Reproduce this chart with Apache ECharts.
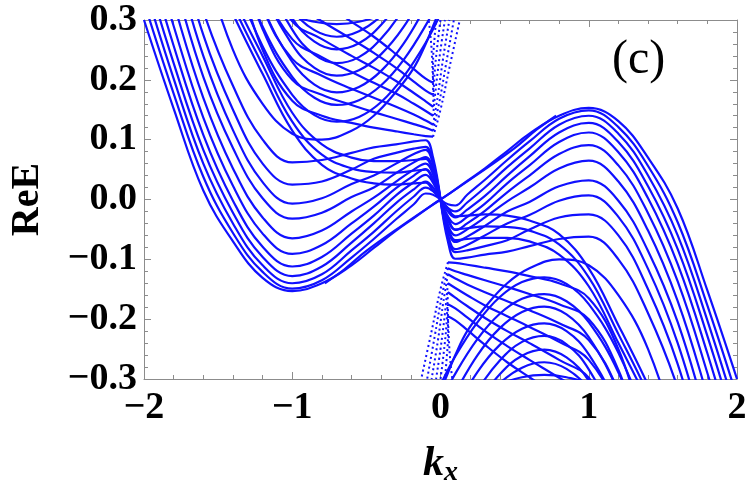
<!DOCTYPE html>
<html>
<head>
<meta charset="utf-8">
<script src="https://cdn.jsdelivr.net/npm/echarts@6.0.0/dist/echarts.min.js"></script>
<style>
  html, body { margin: 0; padding: 0; background: #fff; }
  #chart { width: 750px; height: 492px; }
</style>
</head>
<body>
<div id="chart"></div>
<script>
// k grids (left half / right half)
const kU1L = [-2.0, -1.8, -1.6, -1.4, -1.2, -1.0, -0.8, -0.6, -0.45, -0.3, -0.18, -0.1, -0.05, 0.0];
const kU1R = [2.0, 1.8, 1.6, 1.4, 1.2, 1.0, 0.8, 0.6, 0.45, 0.3, 0.18, 0.1, 0.05, 0.0];
const kL2L = [-1.6, -1.4, -1.2, -1.0, -0.8, -0.6, -0.45, -0.3, -0.18, -0.1, -0.05, 0.0];
const kL2R = [1.6, 1.4, 1.2, 1.0, 0.8, 0.6, 0.45, 0.3, 0.18, 0.1, 0.05, 0.0];
const kArcL = [-1.4, -1.2, -1.0, -0.85, -0.7, -0.55, -0.4, -0.25, -0.1, 0.0];
const kArcR = [1.4, 1.2, 1.0, 0.85, 0.7, 0.55, 0.4, 0.25, 0.1, 0.0];

// big bands, minimum near kx=-1
const eU1L = [
  [0.30, 0.152, 0.015, -0.07, -0.131, -0.153, -0.140, -0.110, -0.081, -0.052, -0.031, -0.017, -0.008, 0.0],
  [0.33, 0.177, 0.038, -0.056, -0.121, -0.149, -0.135, -0.097, -0.066, -0.033, -0.008, 0.01, 0.008, 0.0],
  [0.36, 0.202, 0.06, -0.04, -0.11, -0.140, -0.125, -0.085, -0.054, -0.020, 0.005, 0.02, 0.014, 0.0],
  [0.39, 0.228, 0.083, -0.022, -0.096, -0.128, -0.112, -0.072, -0.040, -0.006, 0.017, 0.03, 0.02, 0.0],
  [0.425, 0.257, 0.108, -0.002, -0.079, -0.112, -0.096, -0.057, -0.027, 0.007, 0.029, 0.041, 0.028, 0.0],
  [0.46, 0.29, 0.137, 0.023, -0.057, -0.091, -0.076, -0.040, -0.012, 0.019, 0.04, 0.051, 0.035, 0.0],
  [0.50, 0.328, 0.17, 0.052, -0.03, -0.065, -0.052, -0.020, 0.003, 0.03, 0.05, 0.06, 0.042, 0.0],
  [0.55, 0.37, 0.205, 0.086, 0.002, -0.032, -0.022, 0.004, 0.02, 0.044, 0.062, 0.071, 0.05, 0.0],
  [0.60, 0.41, 0.24, 0.116, 0.029, -0.007, 0.002, 0.026, 0.04, 0.06, 0.076, 0.083, 0.058, 0.0],
  [0.65, 0.45, 0.275, 0.15, 0.06, 0.025, 0.030, 0.05, 0.068, 0.078, 0.085, 0.088, 0.062, 0.0],
  [0.70, 0.49, 0.315, 0.19, 0.10, 0.062, 0.066, 0.078, 0.087, 0.092, 0.097, 0.099, 0.07, 0.0],
  [0.80, 0.58, 0.40, 0.25, 0.16, 0.11, 0.10, 0.115, 0.14, 0.18, 0.22, 0.26, 0.29, 0.32]
];
// big bands, maximum near kx=1
const eU1R = [
  [-0.30, -0.152, -0.015, 0.07, 0.131, 0.153, 0.140, 0.110, 0.081, 0.052, 0.031, 0.017, 0.008, 0.0],
  [-0.33, -0.177, -0.038, 0.056, 0.121, 0.149, 0.135, 0.097, 0.066, 0.033, 0.008, -0.01, -0.008, 0.0],
  [-0.36, -0.202, -0.06, 0.04, 0.11, 0.140, 0.125, 0.085, 0.054, 0.020, -0.005, -0.02, -0.014, 0.0],
  [-0.39, -0.228, -0.083, 0.022, 0.096, 0.128, 0.112, 0.072, 0.040, 0.006, -0.017, -0.03, -0.02, 0.0],
  [-0.425, -0.257, -0.108, 0.002, 0.079, 0.112, 0.096, 0.057, 0.027, -0.007, -0.029, -0.041, -0.028, 0.0],
  [-0.46, -0.29, -0.137, -0.023, 0.057, 0.091, 0.076, 0.040, 0.012, -0.019, -0.04, -0.051, -0.035, 0.0],
  [-0.50, -0.328, -0.17, -0.052, 0.03, 0.065, 0.052, 0.020, -0.003, -0.03, -0.05, -0.06, -0.042, 0.0],
  [-0.55, -0.37, -0.205, -0.086, -0.002, 0.032, 0.022, -0.004, -0.02, -0.044, -0.062, -0.071, -0.05, 0.0],
  [-0.60, -0.41, -0.24, -0.116, -0.029, 0.007, -0.002, -0.026, -0.04, -0.06, -0.076, -0.083, -0.058, 0.0],
  [-0.65, -0.45, -0.275, -0.15, -0.06, -0.025, -0.030, -0.05, -0.068, -0.078, -0.085, -0.088, -0.062, 0.0],
  [-0.70, -0.49, -0.315, -0.19, -0.10, -0.062, -0.066, -0.078, -0.087, -0.092, -0.097, -0.099, -0.07, 0.0],
  [-0.80, -0.58, -0.40, -0.25, -0.16, -0.11, -0.10, -0.115, -0.14, -0.18, -0.22, -0.26, -0.29, -0.32]
];

// nested arcs, extremum near kx=-0.7 / kx=0.7
const eArcL = [
  [0.377, 0.256, 0.175, 0.141, 0.13, 0.138, 0.163, 0.205, 0.262, 0.31],
  [0.415, 0.289, 0.205, 0.17, 0.158, 0.166, 0.191, 0.233, 0.291, 0.339],
  [0.459, 0.322, 0.23, 0.192, 0.179, 0.188, 0.215, 0.26, 0.323, 0.375],
  [0.491, 0.352, 0.259, 0.22, 0.207, 0.216, 0.243, 0.288, 0.351, 0.403],
  [0.532, 0.383, 0.284, 0.242, 0.228, 0.238, 0.269, 0.319, 0.39, 0.45],
  [0.535, 0.396, 0.303, 0.264, 0.251, 0.261, 0.292, 0.342, 0.413, 0.47],
  [0.51, 0.394, 0.316, 0.283, 0.272, 0.281, 0.307, 0.35, 0.41, 0.46],
  [0.40, 0.35, 0.309, 0.297, 0.293, 0.297, 0.309, 0.33, 0.36, 0.40]
];
const eArcR = [
  [-0.377, -0.256, -0.175, -0.141, -0.13, -0.138, -0.163, -0.205, -0.262, -0.31],
  [-0.415, -0.289, -0.205, -0.17, -0.158, -0.166, -0.191, -0.233, -0.291, -0.339],
  [-0.459, -0.322, -0.23, -0.192, -0.179, -0.188, -0.215, -0.26, -0.323, -0.375],
  [-0.491, -0.352, -0.259, -0.22, -0.207, -0.216, -0.243, -0.288, -0.351, -0.403],
  [-0.532, -0.383, -0.284, -0.242, -0.228, -0.238, -0.269, -0.319, -0.39, -0.45],
  [-0.535, -0.396, -0.303, -0.264, -0.251, -0.261, -0.292, -0.342, -0.413, -0.47],
  [-0.51, -0.394, -0.316, -0.283, -0.272, -0.281, -0.307, -0.35, -0.41, -0.46],
  [-0.40, -0.35, -0.309, -0.297, -0.293, -0.297, -0.309, -0.33, -0.36, -0.40]
];

// inner bands near kx=0
const eL2L = [
  [0.42, 0.31, 0.21, 0.115, 0.058, 0.035, 0.027, 0.025, 0.027, 0.028, 0.015, 0.0],
  [0.44, 0.325, 0.225, 0.13, 0.075, 0.052, 0.046, 0.045, 0.048, 0.05, 0.03, 0.0],
  [0.46, 0.34, 0.24, 0.145, 0.092, 0.07, 0.064, 0.064, 0.066, 0.068, 0.045, 0.0],
  [0.52, 0.40, 0.25, 0.165, 0.14, 0.128, 0.12, 0.114, 0.109, 0.106, 0.105, null],
  [0.55, 0.43, 0.285, 0.2, 0.175, 0.158, 0.146, 0.135, 0.126, 0.12, 0.115, null],
  [0.58, 0.46, 0.32, 0.235, 0.207, 0.185, 0.17, 0.155, 0.142, 0.132, 0.125, null],
  [0.62, 0.49, 0.355, 0.268, 0.238, 0.213, 0.195, 0.177, 0.16, 0.148, 0.14, null],
  [0.65, 0.52, 0.39, 0.298, 0.268, 0.24, 0.22, 0.198, 0.178, 0.164, 0.155, null],
  [0.68, 0.55, 0.42, 0.33, 0.298, 0.268, 0.245, 0.22, 0.197, 0.182, 0.175, null],
  [0.72, 0.59, 0.46, 0.36, 0.33, 0.297, 0.272, 0.243, 0.218, 0.202, 0.195, null]
];
const eL2R = [
  [-0.42, -0.31, -0.21, -0.115, -0.058, -0.035, -0.027, -0.025, -0.027, -0.028, -0.015, 0.0],
  [-0.44, -0.325, -0.225, -0.13, -0.075, -0.052, -0.046, -0.045, -0.048, -0.05, -0.03, 0.0],
  [-0.46, -0.34, -0.24, -0.145, -0.092, -0.07, -0.064, -0.064, -0.066, -0.068, -0.045, 0.0],
  [-0.52, -0.40, -0.25, -0.165, -0.14, -0.128, -0.12, -0.114, -0.109, -0.106, -0.105, null],
  [-0.55, -0.43, -0.285, -0.2, -0.175, -0.158, -0.146, -0.135, -0.126, -0.12, -0.115, null],
  [-0.58, -0.46, -0.32, -0.235, -0.207, -0.185, -0.17, -0.155, -0.142, -0.132, -0.125, null],
  [-0.62, -0.49, -0.355, -0.268, -0.238, -0.213, -0.195, -0.177, -0.16, -0.148, -0.14, null],
  [-0.65, -0.52, -0.39, -0.298, -0.268, -0.24, -0.22, -0.198, -0.178, -0.164, -0.155, null],
  [-0.68, -0.55, -0.42, -0.33, -0.298, -0.268, -0.245, -0.22, -0.197, -0.182, -0.175, null],
  [-0.72, -0.59, -0.46, -0.36, -0.33, -0.297, -0.272, -0.243, -0.218, -0.202, -0.195, null]
];

// steep, sparsely sampled branches near kx=0
const kArmTop = [
  [-0.05, 0.0, 0.06, 0.13], [-0.05, -0.01, 0.04, 0.09], [-0.05, -0.02, 0.02, 0.06],
  [-0.05, -0.03, 0.0, 0.03], [-0.05, -0.04, -0.02, 0.0], [-0.05, -0.05, -0.04, -0.03],
  [-0.05, -0.06, -0.07, -0.08]
];
const eArmTop = [
  [0.105, 0.15, 0.22, 0.30], [0.115, 0.16, 0.23, 0.30], [0.125, 0.17, 0.24, 0.30],
  [0.14, 0.19, 0.25, 0.30], [0.155, 0.21, 0.26, 0.30], [0.175, 0.23, 0.27, 0.30],
  [0.195, 0.25, 0.28, 0.30]
];
const kArmBot = [
  [0.05, 0.0, -0.06, -0.13], [0.05, 0.01, -0.04, -0.09], [0.05, 0.02, -0.02, -0.06],
  [0.05, 0.03, 0.0, -0.03], [0.05, 0.04, 0.02, 0.0], [0.05, 0.05, 0.04, 0.03],
  [0.05, 0.06, 0.07, 0.08]
];
const eArmBot = [
  [-0.105, -0.15, -0.22, -0.30], [-0.115, -0.16, -0.23, -0.30], [-0.125, -0.17, -0.24, -0.30],
  [-0.14, -0.19, -0.25, -0.30], [-0.155, -0.21, -0.26, -0.30], [-0.175, -0.23, -0.27, -0.30],
  [-0.195, -0.25, -0.28, -0.30]
];

// edge state through the origin
const kEdge = [-0.78, -0.65, -0.5, -0.25, 0, 0.25, 0.5, 0.65, 0.78];
const eEdge = [-0.140, -0.117, -0.086, -0.042, 0, 0.042, 0.086, 0.117, 0.140];

const BLUE = '#1010ff';
const chart = echarts.init(document.getElementById('chart'), null, { renderer: 'canvas' });

function pairs(ks, es) {
  return ks.map((k, i) => [k, es[i]]);
}

var series = [];
function addCurve(ks, es, dotted) {
  series.push({
    type: 'line',
    data: pairs(ks, es),
    showSymbol: false,
    smooth: 0.4,
    silent: true,
    clip: true,
    lineStyle: dotted ? { color: BLUE, width: 2, type: [2, 3] } : { color: BLUE, width: 2.2 }
  });
}
eU1L.forEach(e => addCurve(kU1L, e));
eU1R.forEach(e => addCurve(kU1R, e));
eArcL.forEach(e => addCurve(kArcL, e));
eArcR.forEach(e => addCurve(kArcR, e));
eL2L.forEach(e => addCurve(kL2L, e));
eL2R.forEach(e => addCurve(kL2R, e));
kArmTop.forEach((k, i) => addCurve(k, eArmTop[i], true));
kArmBot.forEach((k, i) => addCurve(k, eArmBot[i], true));
addCurve(kEdge, eEdge);

const axisGray = '#8c8c8c';
const labelFont = {
  fontFamily: 'Liberation Serif',
  fontWeight: 'bold',
  fontSize: 38,
  color: '#000'
};
function minus(s) { return s.replace('-', '\u2212'); }

var baseX = {
  type: 'value', min: -2, max: 2, interval: 1,
  axisLine: { show: true, onZero: false, lineStyle: { color: axisGray, width: 1 } },
  axisTick: { show: true, inside: true, length: 7, lineStyle: { color: axisGray } },
  minorTick: { show: true, splitNumber: 5, length: 4, lineStyle: { color: axisGray } },
  splitLine: { show: false }
};
var baseY = {
  type: 'value', min: -0.3, max: 0.3, interval: 0.1,
  axisLine: { show: true, onZero: false, lineStyle: { color: axisGray, width: 1 } },
  axisTick: { show: true, inside: true, length: 7, lineStyle: { color: axisGray } },
  minorTick: { show: true, splitNumber: 5, length: 4, lineStyle: { color: axisGray } },
  splitLine: { show: false }
};

var option = {
  animation: false,
  backgroundColor: '#fff',
  grid: { left: 144, right: 13, top: 20, bottom: 105 },
  xAxis: [
    Object.assign({}, baseX, {
      position: 'bottom',
      axisLabel: Object.assign({}, labelFont, {
        margin: 10,
        formatter: v => minus(String(Math.round(v)))
      }),
      name: '{k|k}{x|x}',
      nameLocation: 'middle',
      nameGap: 62,
      nameTextStyle: {
        rich: {
          k: { fontFamily: 'Liberation Serif', fontStyle: 'italic', fontWeight: 'bold', fontSize: 42, color: '#000' },
          x: { fontFamily: 'Liberation Serif', fontStyle: 'italic', fontWeight: 'bold', fontSize: 28, color: '#000', padding: [18, 0, 0, 0] }
        }
      }
    }),
    Object.assign({}, baseX, { position: 'top', axisLabel: { show: false } })
  ],
  yAxis: [
    Object.assign({}, baseY, {
      position: 'left',
      axisLabel: Object.assign({}, labelFont, {
        margin: 7,
        formatter: v => minus(v.toFixed(1))
      }),
      name: 'ReE',
      nameLocation: 'middle',
      nameGap: 96,
      nameTextStyle: { fontFamily: 'Liberation Serif', fontWeight: 'bold', fontSize: 40, color: '#000' }
    }),
    Object.assign({}, baseY, { position: 'right', axisLabel: { show: false } })
  ],
  graphic: [{
    type: 'text', left: 612, top: 36,
    style: { text: '(c)', font: '48px "Liberation Serif"', fill: '#000' }
  }],
  series: series
};
chart.setOption(option);
</script>
</body>
</html>
